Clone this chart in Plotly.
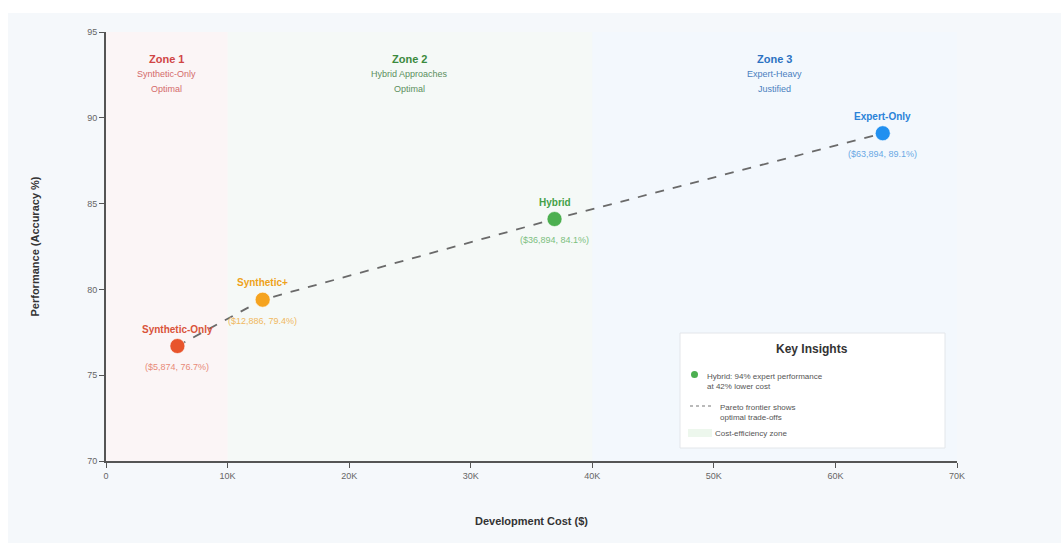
import plotly.graph_objects as go

# ---- data ----
approaches = ["Synthetic-Only", "Synthetic+", "Hybrid", "Expert-Only"]
costs = [5874, 12886, 36894, 63894]
accuracy = [76.7, 79.4, 84.1, 89.1]
point_colors = ["#e8542c", "#f5a31f", "#4caf50", "#2190f0"]
label_colors = ["#d9533a", "#eea21a", "#43a047", "#2a82d8"]
coord_colors = ["#e88a78", "#f0b860", "#7cbf7f", "#6aa8e4"]

zone_titles = ["Zone 1", "Zone 2", "Zone 3"]
zone_sub1 = ["Synthetic-Only", "Hybrid Approaches", "Expert-Heavy"]
zone_sub2 = ["Optimal", "Optimal", "Justified"]
zone_bounds = [(0, 10000), (10000, 40000), (40000, 70000)]
zone_fills = ["rgba(244,67,54,0.035)", "rgba(76,175,80,0.035)", "rgba(33,150,243,0.035)"]
zone_title_colors = ["#d04545", "#3b8a3e", "#2b72c2"]
zone_sub_colors = ["#d46a6a", "#5b8f5d", "#4a80c0"]

x_ticks = [0, 10000, 20000, 30000, 40000, 50000, 60000, 70000]
x_ticklabels = ["0", "10K", "20K", "30K", "40K", "50K", "60K", "70K"]
y_ticks = [70, 75, 80, 85, 90, 95]

FONT = "Liberation Sans, Arial, sans-serif"

# paper coordinate helpers (plot area: x 106..957, y 32..461 px)
L, R, T, B = 106, 957, 32, 461
def px(x):
    return (x - L) / (R - L)
def py(y):
    return (B - y) / (B - T)

shapes = []
# white strips around the page panel
shapes.append(dict(type="rect", xref="paper", yref="paper", x0=px(0), x1=px(1061), y0=py(13), y1=py(0),
                   fillcolor="#ffffff", line=dict(width=0), layer="below"))
shapes.append(dict(type="rect", xref="paper", yref="paper", x0=px(0), x1=px(8), y0=py(543), y1=py(0),
                   fillcolor="#ffffff", line=dict(width=0), layer="below"))
# zones
for (x0, x1), fill in zip(zone_bounds, zone_fills):
    shapes.append(dict(type="rect", xref="x", yref="y", x0=x0, x1=x1, y0=70, y1=95,
                       fillcolor=fill, line=dict(width=0), layer="below"))
# insights box
shapes.append(dict(type="rect", xref="paper", yref="paper", x0=px(680), x1=px(945), y0=py(448), y1=py(333),
                   fillcolor="#ffffff", line=dict(color="#e3e6ea", width=1), layer="above"))
shapes.append(dict(type="circle", xref="paper", yref="paper", x0=px(691), x1=px(698), y0=py(378), y1=py(371),
                   fillcolor="#4caf50", line=dict(width=0), layer="above"))
shapes.append(dict(type="line", xref="paper", yref="paper", x0=px(690), x1=px(713), y0=py(406), y1=py(406),
                   line=dict(color="#777777", width=1.2, dash="dot"), layer="above"))
shapes.append(dict(type="rect", xref="paper", yref="paper", x0=px(688), x1=px(712), y0=py(437), y1=py(429),
                   fillcolor="rgba(76,175,80,0.10)", line=dict(width=0), layer="above"))

annotations = []
for name, c, a, lc, cc in zip(approaches, costs, accuracy, label_colors, coord_colors):
    annotations.append(dict(x=c, y=a, xref="x", yref="y", text=f"<b>{name}</b>",
                            showarrow=False, yshift=17, font=dict(size=10, color=lc, family=FONT)))
    annotations.append(dict(x=c, y=a, xref="x", yref="y", text=f"(${c:,}, {a:.1f}%)",
                            showarrow=False, yshift=-21, font=dict(size=9, color=cc, family=FONT)))

for (x0, x1), t, s1, s2, tc, sc in zip(zone_bounds, zone_titles, zone_sub1, zone_sub2,
                                        zone_title_colors, zone_sub_colors):
    xm = (x0 + x1) / 2
    annotations.append(dict(x=xm, y=py(59), xref="x", yref="paper", text=f"<b>{t}</b>", showarrow=False,
                            yanchor="middle", font=dict(size=11, color=tc, family=FONT)))
    annotations.append(dict(x=xm, y=py(74), xref="x", yref="paper", text=s1, showarrow=False,
                            yanchor="middle", font=dict(size=9, color=sc, family=FONT)))
    annotations.append(dict(x=xm, y=py(89), xref="x", yref="paper", text=s2, showarrow=False,
                            yanchor="middle", font=dict(size=9, color=sc, family=FONT)))

annotations.append(dict(x=px(812), y=py(349), xref="paper", yref="paper", text="<b>Key Insights</b>",
                        xanchor="center", yanchor="middle",
                        showarrow=False, font=dict(size=12, color="#333333", family=FONT)))
annotations.append(dict(x=px(705), y=py(381), xref="paper", yref="paper",
                        text="Hybrid: 94% expert performance<br>at 42% lower cost", align="left",
                        xanchor="left", yanchor="middle", showarrow=False,
                        font=dict(size=8, color="#555555", family=FONT)))
annotations.append(dict(x=px(718), y=py(412), xref="paper", yref="paper",
                        text="Pareto frontier shows<br>optimal trade-offs", align="left",
                        xanchor="left", yanchor="middle", showarrow=False,
                        font=dict(size=8, color="#555555", family=FONT)))
annotations.append(dict(x=px(713), y=py(433), xref="paper", yref="paper",
                        text="Cost-efficiency zone", align="left",
                        xanchor="left", yanchor="middle", showarrow=False,
                        font=dict(size=8, color="#555555", family=FONT)))

layout = go.Layout(
    width=1061, height=543,
    margin=dict(l=L, r=1061 - R, t=T, b=543 - B),
    paper_bgcolor="#f5f8fb",
    plot_bgcolor="#fbfcfd",
    shapes=shapes,
    annotations=annotations,
    showlegend=False,
    font=dict(family=FONT),
    xaxis=dict(range=[0, 70000], tickvals=x_ticks, ticktext=x_ticklabels, showgrid=False, zeroline=False,
               showline=True, linecolor="#555555", linewidth=2, ticks="outside", ticklen=5,
               tickcolor="#555555", tickfont=dict(size=9, color="#666666"),
               title=dict(text="<b>Development Cost ($)</b>", font=dict(size=11, color="#333333"), standoff=38)),
    yaxis=dict(range=[70, 95], tickvals=y_ticks, showgrid=False, zeroline=False,
               showline=True, linecolor="#555555", linewidth=2, ticks="outside", ticklen=5,
               tickcolor="#555555", tickfont=dict(size=9, color="#666666"),
               title=dict(text="<b>Performance (Accuracy %)</b>", font=dict(size=11, color="#333333"), standoff=45)),
)

fig = go.Figure(layout=layout)

# pareto frontier
fig.add_trace(go.Scatter(x=costs, y=accuracy, mode="lines",
                         line=dict(color="#6a6a6a", width=1.8, dash="dash"),
                         hoverinfo="skip", showlegend=False))
# points
fig.add_trace(go.Scatter(x=costs, y=accuracy, mode="markers",
                         marker=dict(size=15, color=point_colors,
                                     line=dict(color="rgba(255,255,255,0.6)", width=1)),
                         showlegend=False))

fig.write_html("out.html")
